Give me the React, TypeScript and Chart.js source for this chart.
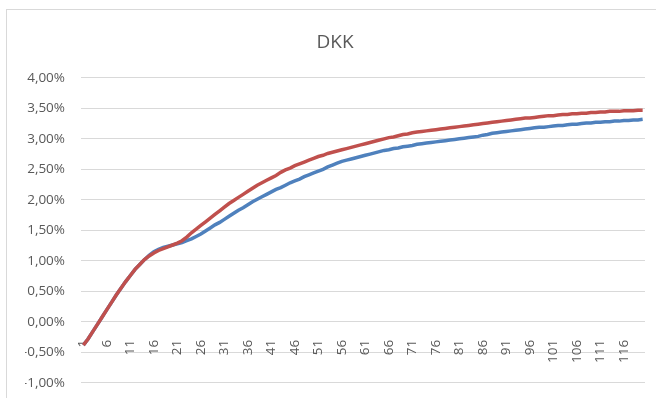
import React, { useEffect, useRef } from "react";
import { Chart, registerables } from "chart.js";

Chart.register(...registerables);

const TITLE = "DKK";
const categories: string[] = Array.from({ length: 120 }, (_, i) => String(i + 1));
const LABEL_STEP = 5;

const Y_MIN = -1;
const Y_MAX = 4;
const Y_STEP = 0.5;

// Blue series (%)
const blueSeries: number[] = [
  -0.38, -0.28, -0.16, -0.04, 0.08, 0.20, 0.32, 0.44, 0.55, 0.66,
  0.76, 0.86, 0.94, 1.02, 1.09, 1.15, 1.19, 1.22, 1.24, 1.26,
  1.28, 1.30, 1.33, 1.36, 1.40, 1.44, 1.49, 1.54, 1.59, 1.63,
  1.68, 1.73, 1.78, 1.83, 1.87, 1.92, 1.97, 2.01, 2.05, 2.09,
  2.13, 2.17, 2.20, 2.24, 2.28, 2.31, 2.34, 2.38, 2.41, 2.44,
  2.47, 2.50, 2.54, 2.57, 2.60, 2.63, 2.65, 2.67, 2.69, 2.71,
  2.73, 2.75, 2.77, 2.79, 2.81, 2.82, 2.84, 2.85, 2.87, 2.88,
  2.89, 2.91, 2.92, 2.93, 2.94, 2.95, 2.96, 2.97, 2.98, 2.99,
  3.00, 3.01, 3.02, 3.03, 3.04, 3.06, 3.07, 3.09, 3.10, 3.11,
  3.12, 3.13, 3.14, 3.15, 3.16, 3.17, 3.18, 3.19, 3.19, 3.20,
  3.21, 3.22, 3.22, 3.23, 3.24, 3.24, 3.25, 3.26, 3.26, 3.27,
  3.27, 3.28, 3.28, 3.29, 3.29, 3.30, 3.30, 3.31, 3.31, 3.32,
];

// Red series (%)
const redSeries: number[] = [
  -0.38, -0.28, -0.16, -0.04, 0.08, 0.20, 0.32, 0.44, 0.55, 0.66,
  0.76, 0.86, 0.94, 1.02, 1.08, 1.13, 1.17, 1.20, 1.23, 1.26,
  1.29, 1.33, 1.39, 1.46, 1.52, 1.58, 1.64, 1.70, 1.76, 1.82,
  1.88, 1.94, 1.99, 2.04, 2.09, 2.14, 2.19, 2.24, 2.28, 2.32,
  2.36, 2.40, 2.45, 2.49, 2.52, 2.56, 2.59, 2.62, 2.65, 2.68,
  2.71, 2.73, 2.76, 2.78, 2.80, 2.82, 2.84, 2.86, 2.88, 2.90,
  2.92, 2.94, 2.96, 2.98, 3.00, 3.02, 3.03, 3.05, 3.07, 3.08,
  3.10, 3.11, 3.12, 3.13, 3.14, 3.15, 3.16, 3.17, 3.18, 3.19,
  3.20, 3.21, 3.22, 3.23, 3.24, 3.25, 3.26, 3.27, 3.28, 3.29,
  3.30, 3.31, 3.32, 3.33, 3.34, 3.34, 3.35, 3.36, 3.37, 3.38,
  3.38, 3.39, 3.40, 3.40, 3.41, 3.41, 3.42, 3.42, 3.43, 3.43,
  3.44, 3.44, 3.45, 3.45, 3.45, 3.46, 3.46, 3.46, 3.47, 3.47,
];

const FONT = "'Open Sans', 'Noto Sans', sans-serif";
const TEXT_COLOR = "#595959";
const GRID_COLOR = "#D9D9D9";

export default function App() {
  const ref = useRef<HTMLCanvasElement | null>(null);

  useEffect(() => {
    if (!ref.current) return;
    const chart = new Chart(ref.current, {
      type: "line",
      data: {
        labels: categories,
        datasets: [
          {
            label: "Blue",
            data: blueSeries,
            borderColor: "#4F81BD",
            backgroundColor: "#4F81BD",
            borderWidth: 3.5,
            pointRadius: 0,
            tension: 0,
            order: 1,
          },
          {
            label: "Red",
            data: redSeries,
            borderColor: "#C0504D",
            backgroundColor: "#C0504D",
            borderWidth: 3.5,
            pointRadius: 0,
            tension: 0,
            order: 0,
          },
        ],
      },
      options: {
        responsive: false,
        animation: false,
        layout: { padding: { left: 25, right: 25, top: 0, bottom: 6 } },
        plugins: {
          legend: { display: false },
          tooltip: { enabled: false },
          title: {
            display: true,
            text: TITLE,
            color: TEXT_COLOR,
            font: { family: FONT, size: 19, weight: "normal" },
            padding: { top: 31, bottom: 24 },
          },
        },
        scales: {
          x: {
            type: "category",
            position: { y: 0 } as any,
            offset: true,
            grid: { display: false },
            border: { display: false },
            ticks: {
              autoSkip: false,
              maxRotation: 90,
              minRotation: 90,
              padding: 10,
              color: TEXT_COLOR,
              font: { family: FONT, size: 13.5 },
              callback: (_v: any, idx: number) =>
                idx % LABEL_STEP === 0 ? categories[idx] : "",
            },
          },
          y: {
            min: Y_MIN,
            max: Y_MAX,
            grid: { color: GRID_COLOR, lineWidth: 1, drawTicks: false },
            border: { display: false },
            afterFit: (scale: any) => {
              scale.width = 56;
            },
            ticks: {
              stepSize: Y_STEP,
              padding: 16,
              color: TEXT_COLOR,
              font: { family: FONT, size: 13.5 },
              callback: (v: any) => Number(v).toFixed(2).replace(".", ",") + "%",
            },
          },
        },
      },
    });
    return () => chart.destroy();
  }, []);

  return (
    <div
      style={{
        position: "absolute",
        left: 0,
        top: 0,
        width: 656,
        height: 398,
        overflow: "hidden",
        background: "#fff",
      }}
    >
      <div
        style={{
          position: "absolute",
          left: 6,
          top: 9,
          width: 700,
          height: 450,
          border: "1px solid #D9D9D9",
          boxSizing: "border-box",
        }}
      />
      <canvas
        ref={ref}
        width={670}
        height={407}
        style={{ position: "absolute", left: 0, top: 0, display: "block" }}
      />
    </div>
  );
}
